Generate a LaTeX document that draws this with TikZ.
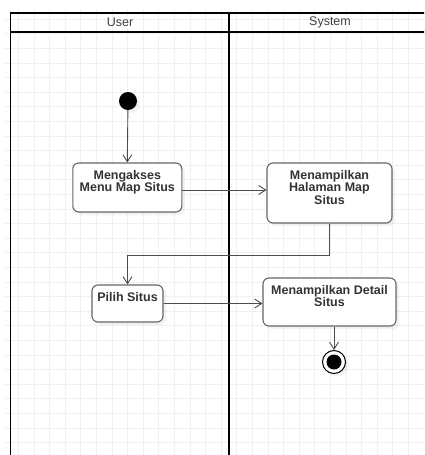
\documentclass[tikz,border=0pt]{standalone}
\usepackage{fontspec}
\setmainfont{Liberation Sans}
\usetikzlibrary{arrows.meta,shadows}

% text of an action box, set at its top
\newcommand{\acttext}[3]{\parbox[c][#2][t]{#1}{\centering\rule{0pt}{16pt}#3}}

\begin{document}
\begin{tikzpicture}[x=1pt,y=-1pt,
  gridline/.style={draw=black!6, line width=0.8pt},
  lane/.style={line width=1.6pt},
  action/.style={draw=black!60, fill=white, rounded corners=6pt, inner sep=0pt, line width=1.1pt,
    font=\bfseries\fontsize{12.5}{11.5}\selectfont, text=black!80,
    drop shadow={opacity=0.1, shadow xshift=3pt, shadow yshift=-3pt}},
  flow/.style={draw=black!70, line width=0.9pt, -{Straight Barb[length=7pt,width=9pt]}}]

\useasboundingbox (0,0) rectangle (424,455);
\clip (0,0) rectangle (424,455);
\fill[white] (0,0) rectangle (424,455);

% Draw the grid
\begin{scope}
\clip (5,10) rectangle (424,455);
\foreach \i in {0,...,27}
  \draw[gridline] ({2.7+15.6*\i},0) -- ({2.7+15.6*\i},455);
\foreach \i in {0,...,31}
  \draw[gridline] (0,{4.5+14.6*\i}) -- (424,{4.5+14.6*\i});
\end{scope}

% Draw the two lanes
\draw[lane] (10.5,13) rectangle (432,462);
\draw[lane] (10.5,32) -- (432,32);
\draw[lane] (229,13) -- (229,462);
\node[font=\fontsize{12.5}{12}\selectfont, text=black!75] (user) at (120,22.5) {User};
\node[font=\fontsize{12.5}{12}\selectfont, text=black!75] (system) at (330,22.5) {System};

% Start and end
\node[circle, fill=black, minimum size=18pt, inner sep=0pt,
  drop shadow={opacity=0.1, shadow xshift=3pt, shadow yshift=-3pt}] (start) at (128,101) {};
\node[circle, draw=black, line width=1pt, fill=white, minimum size=23pt, inner sep=0pt,
  drop shadow={opacity=0.1, shadow xshift=3pt, shadow yshift=-3pt}] (end) at (334,362) {};
\fill (end) circle (7.5);

% Actions
\node[action] (menu) at (127.3,187.5) {\acttext{109pt}{49pt}{Mengakses\\Menu Map Situs}};
\node[action] (halaman) at (329.5,193) {\acttext{125pt}{60pt}{Menampilkan\\Halaman Map\\Situs}};
\node[action] (pilih) at (127.5,303.5) {\acttext{71pt}{37pt}{Pilih Situs}};
\node[action] (detail) at (329.5,302) {\acttext{133pt}{48pt}{Menampilkan Detail\\Situs}};

% Flows
\draw[flow] (start) -- (menu.north);
\draw[flow] ([yshift=-2.5pt]menu.east) -- ([yshift=-2.5pt]menu.east -| halaman.west);
\draw[flow] (halaman.south) -- ++(0,32) -| (pilih.north);
\draw[flow] (pilih.east) -- (pilih.east -| detail.west);
\draw[flow] (detail.south -| end.north) -- (end.north);

\end{tikzpicture}
\end{document}
